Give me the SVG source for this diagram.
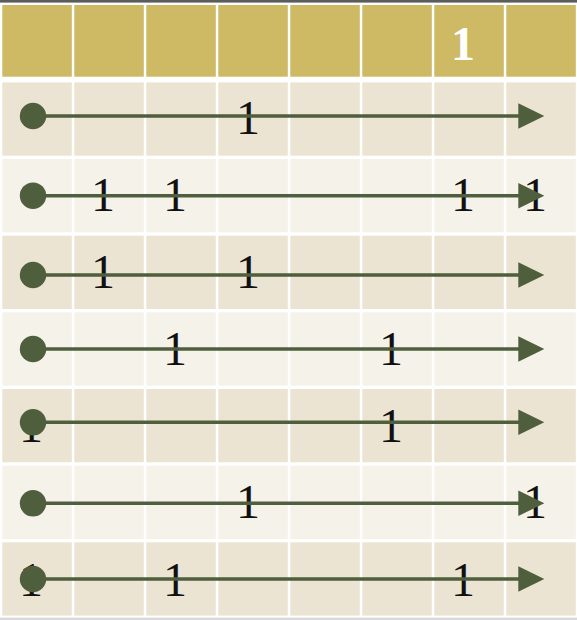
<svg xmlns="http://www.w3.org/2000/svg" width="577" height="620" viewBox="0 0 577 620">
<defs>
<style>
.h{fill:#CEB965}
.a{fill:#EBE4D3}
.b{fill:#F5F2EA}
.t{font-family:"Liberation Serif","Times New Roman",serif;font-size:48px;fill:#111;text-anchor:middle}
.ht{font-family:"Liberation Serif","Times New Roman",serif;font-size:48px;font-weight:bold;fill:#fff;text-anchor:middle}
.ln{stroke:#4F5E3C;stroke-width:3.6;fill:none}
.dot{fill:#4F5E3C}
</style>
<g id="cellsH">
<rect class="h" x="0" y="0" width="69.5" height="71.7"/>
<rect class="h" x="72" y="0" width="69.5" height="71.7"/>
<rect class="h" x="144" y="0" width="69.5" height="71.7"/>
<rect class="h" x="216" y="0" width="69.5" height="71.7"/>
<rect class="h" x="288" y="0" width="69.5" height="71.7"/>
<rect class="h" x="360" y="0" width="69.5" height="71.7"/>
<rect class="h" x="432" y="0" width="69.5" height="71.7"/>
<rect class="h" x="504" y="0" width="69.5" height="71.7"/>
</g>
<g id="cellsA">
<rect class="a" x="0" y="0" width="69.5" height="73.3"/>
<rect class="a" x="72" y="0" width="69.5" height="73.3"/>
<rect class="a" x="144" y="0" width="69.5" height="73.3"/>
<rect class="a" x="216" y="0" width="69.5" height="73.3"/>
<rect class="a" x="288" y="0" width="69.5" height="73.3"/>
<rect class="a" x="360" y="0" width="69.5" height="73.3"/>
<rect class="a" x="432" y="0" width="69.5" height="73.3"/>
<rect class="a" x="504" y="0" width="69.5" height="73.3"/>
</g>
<g id="cellsB">
<rect class="b" x="0" y="0" width="69.5" height="73.3"/>
<rect class="b" x="72" y="0" width="69.5" height="73.3"/>
<rect class="b" x="144" y="0" width="69.5" height="73.3"/>
<rect class="b" x="216" y="0" width="69.5" height="73.3"/>
<rect class="b" x="288" y="0" width="69.5" height="73.3"/>
<rect class="b" x="360" y="0" width="69.5" height="73.3"/>
<rect class="b" x="432" y="0" width="69.5" height="73.3"/>
<rect class="b" x="504" y="0" width="69.5" height="73.3"/>
</g>
</defs>
<rect x="0" y="0" width="577" height="620" fill="#fff"/>
<rect x="0" y="0" width="577" height="2.6" fill="#5c5c5c"/>
<rect x="0" y="617.6" width="577" height="2.4" fill="#d9d9d9"/>

<g id="header">
<use href="#cellsH" x="2.3" y="5"/>
<text class="ht" x="463" y="60">1</text>
</g>
<g id="row1">
<use href="#cellsA" x="2.3" y="82.4"/>
<text class="t" x="248" y="134.3">1</text>
</g>
<g id="row2">
<use href="#cellsB" x="2.3" y="159"/>
<text class="t" x="103" y="211.3">1</text>
<text class="t" x="175" y="211.3">1</text>
<text class="t" x="463" y="211.3">1</text>
<text class="t" x="535" y="211.3">1</text>
</g>
<g id="row3">
<use href="#cellsA" x="2.3" y="235.7"/>
<text class="t" x="103" y="288.3">1</text>
<text class="t" x="248" y="288.3">1</text>
</g>
<g id="row4">
<use href="#cellsB" x="2.3" y="312.3"/>
<text class="t" x="175" y="365">1</text>
<text class="t" x="391" y="365">1</text>
</g>
<g id="row5">
<use href="#cellsA" x="2.3" y="389"/>
<text class="t" x="31" y="441.7">1</text>
<text class="t" x="391" y="441.7">1</text>
</g>
<g id="row6">
<use href="#cellsB" x="2.3" y="465.7"/>
<text class="t" x="248" y="517.7">1</text>
<text class="t" x="535" y="517.7">1</text>
</g>
<g id="row7">
<use href="#cellsA" x="2.3" y="542.3"/>
<text class="t" x="31" y="595.5">1</text>
<text class="t" x="175" y="595.5">1</text>
<text class="t" x="463" y="595.5">1</text>
</g>

<g id="connectors">
<line class="ln" x1="33" y1="116" x2="520" y2="116"/>
<circle class="dot" cx="33" cy="116" r="13.2"/>
<polygon class="dot" points="518.3,103.2 544.3,116 518.3,128.8"/>

<line class="ln" x1="33" y1="195.7" x2="520" y2="195.7"/>
<circle class="dot" cx="33" cy="195.7" r="13.2"/>
<polygon class="dot" points="518.3,182.9 544.3,195.7 518.3,208.5"/>

<line class="ln" x1="33" y1="275" x2="520" y2="275"/>
<circle class="dot" cx="33" cy="275" r="13.2"/>
<polygon class="dot" points="518.3,262.2 544.3,275 518.3,287.8"/>

<line class="ln" x1="33" y1="349" x2="520" y2="349"/>
<circle class="dot" cx="33" cy="349" r="13.2"/>
<polygon class="dot" points="518.3,336.2 544.3,349 518.3,361.8"/>

<line class="ln" x1="33" y1="422.3" x2="520" y2="422.3"/>
<circle class="dot" cx="33" cy="422.3" r="13.2"/>
<polygon class="dot" points="518.3,409.5 544.3,422.3 518.3,435.1"/>

<line class="ln" x1="33" y1="503.3" x2="520" y2="503.3"/>
<circle class="dot" cx="33" cy="503.3" r="13.2"/>
<polygon class="dot" points="518.3,490.5 544.3,503.3 518.3,516.1"/>

<line class="ln" x1="33" y1="579" x2="520" y2="579"/>
<circle class="dot" cx="33" cy="579" r="13.2"/>
<polygon class="dot" points="518.3,566.2 544.3,579 518.3,591.8"/>
</g>
</svg>
